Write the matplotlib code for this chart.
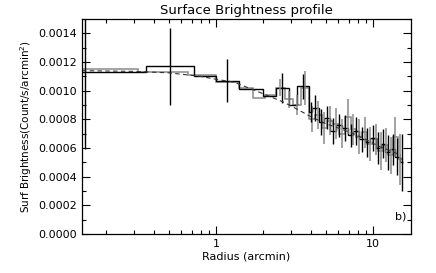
import numpy as np
import matplotlib
matplotlib.use("Agg")
import matplotlib.pyplot as plt
from matplotlib.ticker import MultipleLocator, FixedLocator, NullFormatter, FixedFormatter

# Профиль поверхностной яркости: две ступенчатые гистограммы + модельная кривая
black_edges = [0.06, 0.36, 0.72, 1.0, 1.4, 2.0, 2.4, 2.9, 3.3, 3.9, 4.1, 4.5, 4.9, 5.35,
               5.85, 6.35, 6.9, 7.5, 8.15, 8.85, 9.6, 10.4, 11.2, 12.0, 12.9, 13.8, 14.8, 15.6]
black_sb = [0.00113, 0.00117, 0.00110, 0.00107, 0.00101, 0.00096, 0.00102, 0.00090, 0.00103,
            0.00085, 0.00088, 0.00078, 0.00081, 0.00072, 0.00076, 0.00074, 0.00069, 0.00072,
            0.00066, 0.00064, 0.00067, 0.00060, 0.00063, 0.00057, 0.00059, 0.00054, 0.00050]
black_err = [0.00054, 0.00027, 0.0, 0.00015, 0.0, 0.0, 0.000105, 0.0, 0.00009,
             0.00007, 0.00009, 0.00009, 0.00008, 0.00009, 0.00008, 0.00009, 0.00008, 0.00010,
             0.00009, 0.00010, 0.00009, 0.00011, 0.00010, 0.00012, 0.00011, 0.00013, 0.00020]

gray_edges = [0.06, 0.32, 0.66, 1.0, 1.4, 1.72, 2.05, 2.4, 2.75, 3.1, 3.5, 3.9, 4.3, 4.7,
              5.1, 5.6, 6.1, 6.6, 7.2, 7.8, 8.5, 9.2, 10.0, 10.8, 11.6, 12.5, 13.4, 14.4, 15.4]
gray_sb = [0.00115, 0.00113, 0.00111, 0.00106, 0.00102, 0.00095, 0.00097, 0.00102, 0.00094,
           0.00090, 0.00102, 0.00080, 0.00083, 0.00074, 0.00079, 0.00077, 0.00070, 0.00082,
           0.00073, 0.00068, 0.00071, 0.00063, 0.00066, 0.00058, 0.00062, 0.00055, 0.00068, 0.00052]
gray_err = [0.0, 0.0, 0.0, 0.0, 0.0, 0.0, 0.0, 0.00006, 0.00006,
            0.00007, 0.00012, 0.00009, 0.00010, 0.00011, 0.00010, 0.00011, 0.00010, 0.00012,
            0.00011, 0.00012, 0.00011, 0.00012, 0.00011, 0.00013, 0.00012, 0.00013, 0.00014, 0.00018]

model_r = [0.14, 0.3, 0.5, 0.8, 1.0, 1.3, 1.7, 2.2, 2.7, 3.3, 4.0, 5.0, 6.0, 7.5, 9.0, 11.0, 13.0, 15.0]
model_sb = [0.001140, 0.001135, 0.001125, 0.00110, 0.00108, 0.00106, 0.00101, 0.00096, 0.00092,
            0.00087, 0.00082, 0.00077, 0.00074, 0.00070, 0.00066, 0.00061, 0.00058, 0.00055]

fig = plt.figure(figsize=(4.36, 2.73), dpi=100)
ax = fig.add_axes([0.188, 0.143, 0.755, 0.787])

for edges, sb, err, col, lw in [(gray_edges, gray_sb, gray_err, "#8a8a8a", 1.1),
                                (black_edges, black_sb, black_err, "black", 1.0)]:
    e = np.array(edges)
    centers = np.sqrt(e[:-1] * e[1:])
    ax.stairs(sb, e, color=col, lw=lw, baseline=None)
    err = np.array(err)
    m = err > 0
    ax.errorbar(centers[m], np.array(sb)[m], yerr=err[m], fmt="none", ecolor=col,
                elinewidth=lw, capsize=0)

ax.plot(model_r, model_sb, color="#333333", lw=0.8, ls=(0, (4, 3)))

ax.set_xscale("log")
ax.set_xlim(0.14, 17.5)
ax.set_ylim(0, 0.0015)

ax.yaxis.set_major_locator(MultipleLocator(0.0002))
ax.yaxis.set_minor_locator(MultipleLocator(0.0001))
ax.yaxis.set_major_formatter(matplotlib.ticker.FormatStrFormatter("%.4f"))
ax.xaxis.set_major_locator(FixedLocator([1, 10]))
ax.xaxis.set_major_formatter(FixedFormatter(["1", "10"]))
ax.xaxis.set_minor_formatter(NullFormatter())

ax.tick_params(which="both", direction="in", top=True, right=True, labelsize=8, width=0.8)
ax.tick_params(which="major", length=6)
ax.tick_params(which="minor", length=3)
for s in ax.spines.values():
    s.set_linewidth(0.9)

ax.set_title("Surface Brightness profile", fontsize=9.5, pad=4)
ax.set_xlabel("Radius (arcmin)", fontsize=8, labelpad=2)
ax.set_ylabel("Surf Brightness(Count/s/arcmin$^2$)", fontsize=7.5, labelpad=3)
ax.text(0.985, 0.08, "b)", transform=ax.transAxes, ha="right", va="center", fontsize=8)

fig.savefig("out.png", dpi=100)
